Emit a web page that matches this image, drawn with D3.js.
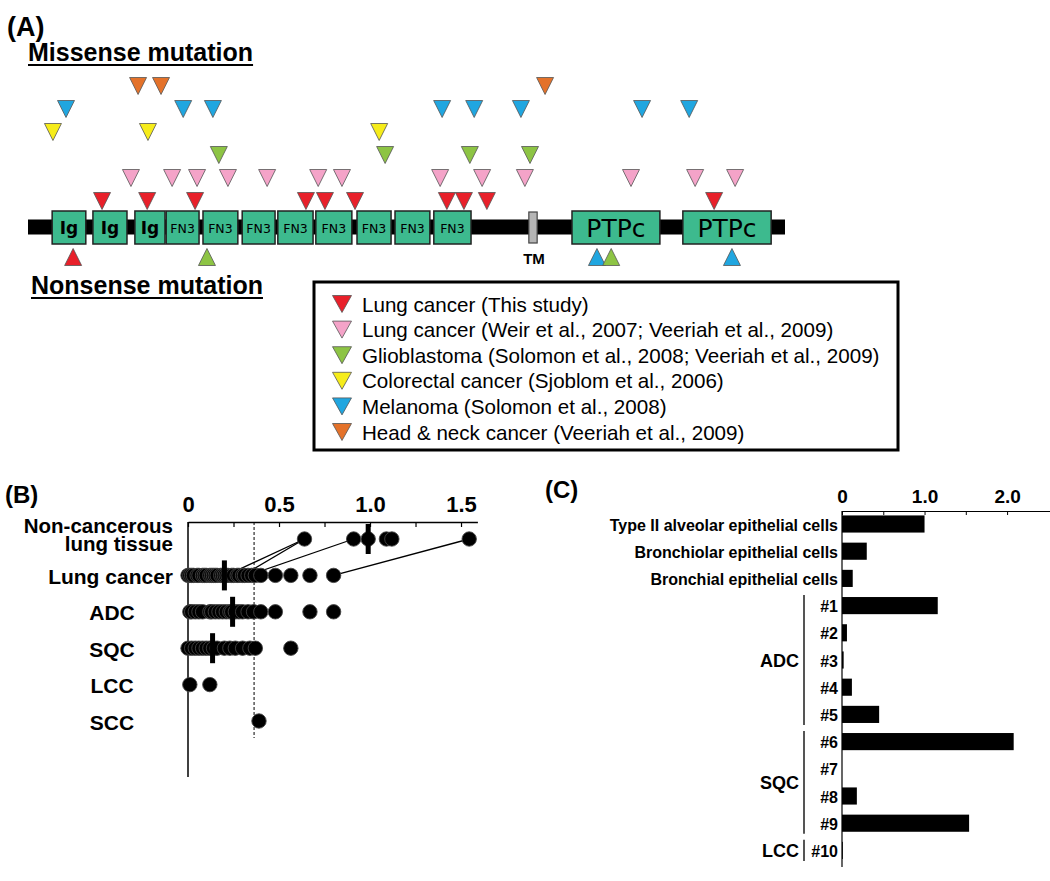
<!DOCTYPE html>
<html><head><meta charset="utf-8">
<script src="https://cdn.jsdelivr.net/npm/d3@7"></script>
<style>body{margin:0;background:#fff}svg{display:block}text{font-family:"Liberation Sans",Arial,sans-serif}</style>
</head><body>
<script>
// ---------- Panel A data (approximate amino-acid positions) ----------
const proteinLength = 1912;
const domainNames = ["Ig","Ig","Ig","FN3","FN3","FN3","FN3","FN3","FN3","FN3","FN3","PTPc","PTPc"];
const domainStart = [61,164,270,349,442,541,631,727,831,927,1025,1374,1654];
const domainEnd   = [146,250,346,432,530,624,720,818,917,1015,1119,1596,1877];
const tmRange = [1265,1286];
const mutationTypes = ["red","pink","green","yellow","blue","orange"];
const typeColors = ["#e8202a","#f4a3c8","#8dc444","#f6ec1a","#20a6e0","#e4722a"];
const typeLabels = [
  "Lung cancer (This study)",
  "Lung cancer (Weir et al., 2007; Veeriah et al., 2009)",
  "Glioblastoma (Solomon et al., 2008; Veeriah et al., 2009)",
  "Colorectal cancer (Sjoblom et al., 2006)",
  "Melanoma (Solomon et al., 2008)",
  "Head & neck cancer (Veeriah et al., 2009)"
];
const missenseRed    = [187,301,422,702,750,826,1058,1101,1159,1733];
const missensePink   = [260,364,427,505,604,733,793,1041,1147,1255,1523,1685,1786];
const missenseGreen  = [482,902,1116,1268];
const missenseYellow = [63,303,887];
const missenseBlue   = [96,392,467,1046,1127,1245,1551,1670];
const missenseOrange = [278,336,1306];
const nonsenseTypes = ["red","green","blue","green","blue"];
const nonsensePos   = [114,452,1437,1473,1778];

// ---------- Panel B data ----------
const bCategories = ["Non-cancerous lung tissue","Lung cancer","ADC","SQC","LCC","SCC"];
const bNonCancer = [0.64,0.91,0.99,1.09,1.12,1.545];
const bLungCancer = [0.00,0.01,0.02,0.03,0.05,0.06,0.08,0.09,0.10,0.12,0.13,0.14,0.15,0.16,0.18,0.19,0.20,0.21,0.22,0.24,0.25,0.27,0.28,0.30,0.31,0.33,0.35,0.37,0.40,0.48,0.565,0.67,0.80];
const bADC = [0.01,0.02,0.04,0.06,0.08,0.12,0.13,0.15,0.17,0.19,0.21,0.23,0.24,0.26,0.28,0.30,0.33,0.36,0.40,0.48,0.67,0.80];
const bSQC = [0.00,0.02,0.04,0.06,0.08,0.10,0.12,0.14,0.16,0.20,0.23,0.26,0.30,0.34,0.37,0.565];
const bLCC = [0.01,0.12];
const bSCC = [0.39];
const bMedians = [0.99,0.20,0.245,0.135,null,null];
const bPairsCancer = [0.21,0.30,0.33,0.80];
const bPairsNormal = [0.64,0.64,0.91,1.545];
const bCutoff = 0.363;
const bTicks = [0,0.25,0.5,0.75,1.0,1.25,1.5];
const bTickLabels = ["0","","0.5","","1.0","","1.5"];

// ---------- Panel C data ----------
const cLabels = ["Type II alveolar epithelial cells","Bronchiolar epithelial cells","Bronchial epithelial cells","#1","#2","#3","#4","#5","#6","#7","#8","#9","#10"];
const cValues = [1.0,0.30,0.13,1.16,0.06,0.02,0.12,0.45,2.08,0,0.18,1.54,0.01];
const cGroups = ["ADC","SQC","LCC"];
const cGroupFirst = ["#1","#6","#10"];
const cGroupLast  = ["#5","#9","#10"];
const cTicks = [0,0.5,1.0,1.5,2.0];
const cTickLabels = ["0","","1.0","","2.0"];

const W = 1050, H = 881;
const svg = d3.select("body").append("svg").attr("width",W).attr("height",H);

// ================= Panel A =================
const A = svg.append("g");
A.append("text").attr("x",7).attr("y",36).attr("font-size",27).attr("font-weight","bold").text("(A)");
function underlined(g, x, y, txt){
  const t = g.append("text").attr("x",x).attr("y",y).attr("font-size",25).attr("font-weight","bold").text(txt);
  const w = t.node().getComputedTextLength();
  g.append("line").attr("x1",x).attr("x2",x+w).attr("y1",y+4).attr("y2",y+4).attr("stroke","#000").attr("stroke-width",2);
}
underlined(A, 28, 61, "Missense mutation");
underlined(A, 31, 294, "Nonsense mutation");

const xA = d3.scaleLinear().domain([0,proteinLength]).range([28,785]);
const yTier = d3.scalePoint().domain(mutationTypes).range([201,86]);
const color = d3.scaleOrdinal().domain(mutationTypes).range(typeColors);
const backboneY = 227;
A.append("rect").attr("x",xA(0)).attr("y",backboneY-7.5).attr("width",xA(proteinLength)-xA(0)).attr("height",15).attr("fill","#000");
const doms = domainNames.map((n,i)=>({n, s:domainStart[i], e:domainEnd[i]}));
A.selectAll("rect.dom").data(doms).join("rect").attr("class","dom")
  .attr("x",d=>xA(d.s)).attr("y",211).attr("width",d=>xA(d.e)-xA(d.s)).attr("height",33)
  .attr("fill","#3dba8e").attr("stroke","#222").attr("stroke-width",1.5);
A.selectAll("text.dom").data(doms).join("text").attr("class","dom")
  .attr("x",d=>(xA(d.s)+xA(d.e))/2).attr("y",228).attr("dominant-baseline","central").attr("text-anchor","middle")
  .style("font-family",'"DejaVu Sans",sans-serif')
  .attr("font-size",d=>d.n==="Ig"?17:d.n==="FN3"?12.5:25)
  .attr("font-weight",d=>d.n==="Ig"?"bold":"normal")
  .text(d=>d.n);
A.append("rect").attr("x",xA(tmRange[0])).attr("y",212).attr("width",xA(tmRange[1])-xA(tmRange[0])).attr("height",31)
  .attr("fill","#b5b5b5").attr("stroke","#444").attr("stroke-width",1.2);
A.append("text").attr("x",(xA(tmRange[0])+xA(tmRange[1]))/2+1).attr("y",264).attr("text-anchor","middle")
  .attr("font-size",15).attr("font-weight","bold").text("TM");

const triW = 17, triH = 17;
function triDown(cx, cy, w, h){ return `M${cx-w/2},${cy-h/2}L${cx+w/2},${cy-h/2}L${cx},${cy+h/2}Z`; }
function triUp(cx, cy, w, h){ return `M${cx-w/2},${cy+h/2}L${cx+w/2},${cy+h/2}L${cx},${cy-h/2}Z`; }
const missense = [];
[missenseRed,missensePink,missenseGreen,missenseYellow,missenseBlue,missenseOrange].forEach((arr,i)=>{
  arr.forEach(p=>missense.push({type:mutationTypes[i], pos:p}));
});
A.selectAll("path.mis").data(missense.slice().reverse()).join("path").attr("class","mis")
  .attr("d",d=>triDown(xA(d.pos), yTier(d.type), triW, triH))
  .attr("fill",d=>color(d.type)).attr("stroke","#555").attr("stroke-width",0.8);
const nonsense = nonsensePos.map((p,i)=>({type:nonsenseTypes[i], pos:p}));
A.selectAll("path.non").data(nonsense).join("path").attr("class","non")
  .attr("d",d=>triUp(xA(d.pos), 257, triW, triH))
  .attr("fill",d=>color(d.type)).attr("stroke","#555").attr("stroke-width",0.8);

// Legend
const L = A.append("g");
L.append("rect").attr("x",314).attr("y",282).attr("width",584).attr("height",168).attr("fill","#fff").attr("stroke","#000").attr("stroke-width",3);
const yLeg = d3.scalePoint().domain(mutationTypes).range([304,432]);
L.selectAll("path").data(mutationTypes).join("path")
  .attr("d",t=>triDown(342, yLeg(t), 19, 17)).attr("fill",t=>color(t)).attr("stroke","#555").attr("stroke-width",0.8);
L.selectAll("text").data(mutationTypes).join("text")
  .attr("x",362).attr("y",t=>yLeg(t)).attr("dominant-baseline","central").attr("font-size",20.6)
  .text((t,i)=>typeLabels[i]);

// ================= Panel B =================
const B = svg.append("g");
B.append("text").attr("x",5).attr("y",503).attr("font-size",24).attr("font-weight","bold").text("(B)");
const xB = d3.scaleLinear().domain([0,1.59]).range([188,477.4]);
const yB = d3.scalePoint().domain(bCategories).range([539,721]);
const axB = d3.axisTop(xB).tickValues(bTicks).tickFormat((d,i)=>bTickLabels[i]).tickSizeInner(-5).tickSizeOuter(0).tickPadding(10);
const gAxB = B.append("g").attr("transform","translate(0,522)").call(axB);
gAxB.select(".domain").attr("stroke-width",1.5);
gAxB.selectAll(".tick line").attr("stroke-width",1.2);
gAxB.selectAll("text").attr("font-size",22).attr("font-weight","bold").style("font-family",'"Liberation Sans",Arial,sans-serif');
B.append("line").attr("x1",xB(0)).attr("x2",xB(0)).attr("y1",522).attr("y2",777).attr("stroke","#000").attr("stroke-width",1.5);
B.append("line").attr("x1",xB(bCutoff)).attr("x2",xB(bCutoff)).attr("y1",522).attr("y2",738).attr("stroke","#000").attr("stroke-width",1).attr("stroke-dasharray","3,2");
B.append("text").attr("x",173).attr("y",533).attr("text-anchor","end").attr("font-size",20.5).attr("font-weight","bold").text("Non-cancerous");
B.append("text").attr("x",173).attr("y",551).attr("text-anchor","end").attr("font-size",20.5).attr("font-weight","bold").text("lung tissue");
B.selectAll("text.cat").data(bCategories.slice(1)).join("text").attr("class","cat")
  .attr("x",(d,i)=>i===0?173:112).attr("text-anchor",(d,i)=>i===0?"end":"middle")
  .attr("y",d=>yB(d)+1).attr("dominant-baseline","central").attr("font-size",21).attr("font-weight","bold").text(d=>d);
const pairs = bPairsCancer.map((c,i)=>({c, n:bPairsNormal[i]}));
B.selectAll("line.pair").data(pairs).join("line").attr("class","pair")
  .attr("x1",d=>xB(d.c)).attr("y1",yB(bCategories[1])).attr("x2",d=>xB(d.n)).attr("y2",yB(bCategories[0]))
  .attr("stroke","#000").attr("stroke-width",1.3);
const bSeries = [bNonCancer,bLungCancer,bADC,bSQC,bLCC,bSCC];
const dots = [];
bSeries.forEach((arr,i)=>arr.forEach(v=>dots.push({cat:bCategories[i], v})));
B.selectAll("circle").data(dots).join("circle")
  .attr("cx",d=>xB(d.v)).attr("cy",d=>yB(d.cat)).attr("r",7.2).attr("fill","#000")
  .attr("stroke","#444").attr("stroke-width",0.9);
const meds = bMedians.map((m,i)=>({cat:bCategories[i], m})).filter(d=>d.m!==null);
B.selectAll("rect.med").data(meds).join("rect").attr("class","med")
  .attr("x",d=>xB(d.m)-2.5).attr("y",d=>yB(d.cat)-15).attr("width",5).attr("height",30).attr("fill","#000");

// ================= Panel C =================
const C = svg.append("g");
C.append("text").attr("x",545).attr("y",498).attr("font-size",24).attr("font-weight","bold").text("(C)");
const xC = d3.scaleLinear().domain([0,2.52]).range([842,1050]);
const yC = d3.scaleBand().domain(cLabels).range([510.4,864]).paddingInner(0.37).paddingOuter(0.185);
const axC = d3.axisTop(xC).tickValues(cTicks).tickFormat((d,i)=>cTickLabels[i]).tickSizeInner(-4).tickSizeOuter(0).tickPadding(8);
const gAxC = C.append("g").attr("transform","translate(0,511)").call(axC);
gAxC.select(".domain").attr("stroke-width",1.2);
gAxC.selectAll("text").attr("font-size",19).attr("font-weight","bold").style("font-family",'"Liberation Sans",Arial,sans-serif');
C.append("line").attr("x1",xC(0)).attr("x2",xC(0)).attr("y1",511).attr("y2",867).attr("stroke","#000").attr("stroke-width",1.2);
C.selectAll("rect.bar").data(cValues.map((v,i)=>({l:cLabels[i], v}))).join("rect").attr("class","bar")
  .attr("x",xC(0)).attr("y",d=>yC(d.l)).attr("width",d=>xC(d.v)-xC(0)).attr("height",yC.bandwidth()).attr("fill","#000");
C.selectAll("text.lab").data(cLabels).join("text").attr("class","lab")
  .attr("x",838).attr("y",d=>yC(d)+yC.bandwidth()/2+1).attr("dominant-baseline","central").attr("text-anchor","end")
  .attr("font-size",16).attr("font-weight","bold").text(d=>d);
const step = yC.step();
const grp = cGroups.map((g,i)=>({g, y0:yC(cGroupFirst[i])-step*0.185, y1:yC(cGroupLast[i])+yC.bandwidth()+step*0.185}));
C.selectAll("line.grp").data(grp).join("line").attr("class","grp")
  .attr("x1",804).attr("x2",804).attr("y1",d=>d.y0+3).attr("y2",d=>d.y1-3).attr("stroke","#555").attr("stroke-width",2);
C.selectAll("text.grp").data(grp).join("text").attr("class","grp")
  .attr("x",799).attr("y",d=>(d.y0+d.y1)/2+1).attr("dominant-baseline","central").attr("text-anchor","end")
  .attr("font-size",18).attr("font-weight","bold").text(d=>d.g);
</script>
</body></html>
